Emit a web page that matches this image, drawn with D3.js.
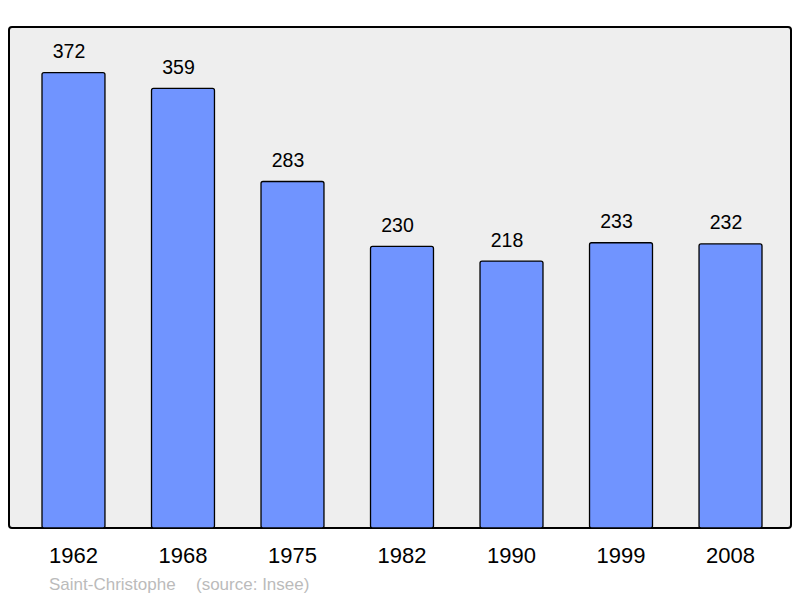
<!DOCTYPE html>
<html><head><meta charset="utf-8">
<script src="https://cdn.jsdelivr.net/npm/d3@7"></script>
<style>body{margin:0;background:#fff;}svg{display:block;}</style>
</head><body>
<script>
const years = ["1962","1968","1975","1982","1990","1999","2008"];
const population = [372,359,283,230,218,233,232];
const footerName = "Saint-Christophe";
const footerSource = "(source: Insee)";

const W=800,H=598;
const FONT="Liberation Sans, Arial, sans-serif";
const svg=d3.select("body").append("svg").attr("width",W).attr("height",H);
const panel={x:9,y:27,w:782,h:501};
svg.append("rect").attr("x",panel.x).attr("y",panel.y).attr("width",panel.w).attr("height",panel.h)
  .attr("rx",3).attr("fill","#eeeeee").attr("stroke","#000").attr("stroke-width",2);

const x=d3.scaleBand().domain(years).range([42,762]).paddingInner(0.425).paddingOuter(0);
const y=d3.scaleLinear().domain([0,372*1.1]).range([528,27]);

const g=svg.append("g");
g.selectAll("rect.bar").data(years).join("rect").attr("class","bar")
  .attr("x",d=>x(d))
  .attr("y",(d,i)=>y(population[i]))
  .attr("width",x.bandwidth())
  .attr("height",(d,i)=>y(0)-y(population[i]))
  .attr("rx",2)
  .attr("fill","#7094ff").attr("stroke","#000").attr("stroke-width",1.3);

g.selectAll("text.val").data(years).join("text").attr("class","val")
  .attr("x",d=>x(d)+x.bandwidth()/2-4.5)
  .attr("y",(d,i)=>y(population[i])-14.5)
  .attr("text-anchor","middle").attr("font-family",FONT)
  .attr("font-size",19.5).attr("fill","#000")
  .text((d,i)=>population[i]);

const axis=d3.axisBottom(x).tickSize(0).tickPadding(0);
const ax=svg.append("g").attr("transform","translate(0,563)").call(axis);
ax.select(".domain").remove();
ax.selectAll("text").attr("dy",0).attr("y",0).attr("font-family",FONT)
  .attr("font-size",22).attr("fill","#000");

svg.append("text").attr("x",49).attr("y",590).attr("font-family",FONT)
  .attr("font-size",17).attr("fill","#bbbbbb").text(footerName);
svg.append("text").attr("x",196).attr("y",590).attr("font-family",FONT)
  .attr("font-size",17).attr("fill","#bbbbbb").text(footerSource);
</script>
</body></html>
